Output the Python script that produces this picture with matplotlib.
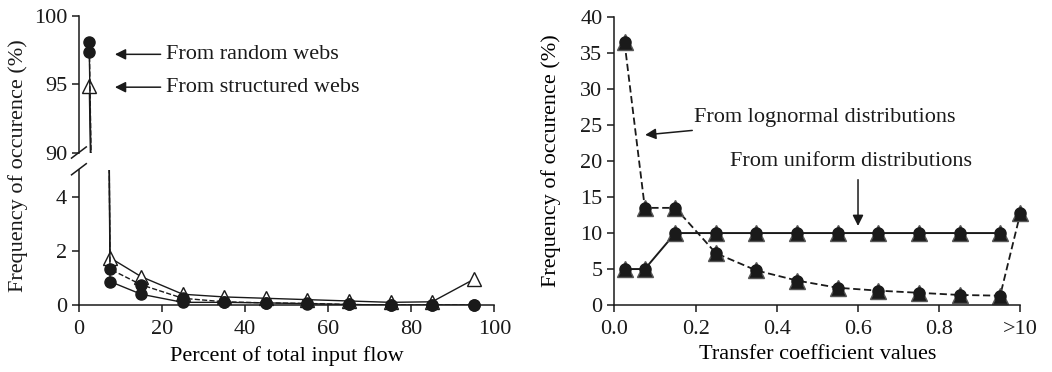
import matplotlib.pyplot as plt

plt.rcParams['font.family'] = ['Liberation Serif', 'DejaVu Serif']
plt.rcParams['font.size'] = 16

# left panel: percent of total input flow
pct_x = [2.5, 7.5, 15, 25, 35, 45, 55, 65, 75, 85, 95]
random_hi = [98.1, 1.33, 0.75, 0.25, 0.12, 0.08, 0.06, 0.02, 0.0, 0.0, 0.0]
random_lo = [97.4, 0.87, 0.40, 0.10, 0.10, 0.08, 0.05, 0.02, 0.0, 0.0, 0.0]
structured = [94.9, 1.75, 1.05, 0.40, 0.30, 0.25, 0.20, 0.15, 0.10, 0.12, 0.95]

# right panel: transfer coefficients
coef_x = [0.025, 0.075, 0.15, 0.25, 0.35, 0.45, 0.55, 0.65, 0.75, 0.85, 0.95, 1.0]
lognormal = [36.5, 13.5, 13.5, 7.2, 4.8, 3.4, 2.4, 2.0, 1.7, 1.4, 1.3, 12.8]
uniform = [5.0, 5.0, 10.0, 10.0, 10.0, 10.0, 10.0, 10.0, 10.0, 10.0, 10.0]
coef_ticks = [0.0, 0.2, 0.4, 0.6, 0.8, 1.0]
coef_labels = ['0.0', '0.2', '0.4', '0.6', '0.8', '>10']

ink = '#1a1a1a'

fig = plt.figure(figsize=(10.52, 3.72), dpi=100)
ax_top = fig.add_axes([0.075, 0.589, 0.395, 0.368])
ax_bot = fig.add_axes([0.075, 0.180, 0.395, 0.363])
ax_r = fig.add_axes([0.584, 0.180, 0.386, 0.774])


def style(ax):
    for s in ['top', 'right']:
        ax.spines[s].set_visible(False)
    for s in ['left', 'bottom']:
        ax.spines[s].set_linewidth(1.1)
        ax.spines[s].set_color(ink)
    ax.tick_params(direction='out', length=5, width=1.1, color=ink, labelcolor=ink)
    ax.tick_params(axis='x', pad=6)


series = [(structured, '-', '^', 10, 'white'),
          (random_hi, '--', 'o', 8, ink),
          (random_lo, '-', 'o', 8, ink)]

for ax, sl in [(ax_top, slice(0, 1)), (ax_bot, slice(1, None))]:
    style(ax)
    for ys, ls, mk, ms, fc in series:
        ax.plot(pct_x, ys, ls, color=ink, lw=1.0)
        ax.plot(pct_x[sl], ys[sl], ls='none', marker=mk, ms=ms, mfc=fc,
                mec=ink, mew=1.0, clip_on=False)
    ax.set_xlim(0, 100)

ax_top.set_ylim(90, 100)
ax_top.set_yticks([90, 95, 100])
ax_top.spines['bottom'].set_visible(False)
ax_top.set_xticks([])
ax_bot.set_ylim(0, 5)
ax_bot.set_yticks([0, 2, 4])
ax_bot.set_xticks([0, 20, 40, 60, 80, 100])
ax_bot.set_xlabel('Percent of total input flow', labelpad=5)

# break marks on the left spine
fig.add_artist(plt.Line2D([0.068, 0.082], [0.575, 0.605], color=ink, lw=1.1))
fig.add_artist(plt.Line2D([0.068, 0.082], [0.530, 0.560], color=ink, lw=1.1))

fig.text(0.017, 0.556, 'Frequency of occurence (%)', rotation=90,
         ha='center', va='center', color=ink)

arrow = dict(arrowstyle='-|>', color=ink, lw=1.1, mutation_scale=16)
ax_top.annotate('From random webs', xy=(8, 97.2), xytext=(21, 97.2),
                va='center', color=ink, arrowprops=arrow)
ax_top.annotate('From structured webs', xy=(8, 94.8), xytext=(21, 94.8),
                va='center', color=ink, arrowprops=arrow)

# right panel
style(ax_r)
ax_r.plot(coef_x, lognormal, '--', color=ink, lw=1.3, dashes=(4, 2))
ax_r.plot(coef_x[:len(uniform)], uniform, '-', color=ink, lw=1.4)
for xs, ys in [(coef_x, lognormal), (coef_x[:len(uniform)], uniform)]:
    ax_r.plot(xs, ys, ls='none', marker='^', ms=11, mfc=ink, mec='#555555',
              mew=1.0, clip_on=False)
    ax_r.plot(xs, ys, ls='none', marker='o', ms=8, mfc=ink, mec=ink,
              clip_on=False)
ax_r.set_xlim(0, 1.0)
ax_r.set_ylim(0, 40)
ax_r.set_yticks(range(0, 41, 5))
ax_r.set_xticks(coef_ticks)
ax_r.set_xticklabels(coef_labels)
ax_r.set_xlabel('Transfer coefficient values', labelpad=4)
ax_r.set_ylabel('Frequency of occurence (%)', labelpad=14)

ax_r.annotate('From lognormal distributions', xy=(0.069, 23.6),
              xytext=(0.195, 26.0), va='center', color=ink, arrowprops=arrow)
ax_r.text(0.285, 20.0, 'From uniform distributions', va='center', color=ink)
ax_r.annotate('', xy=(0.6, 10.6), xytext=(0.6, 17.8), arrowprops=arrow)

fig.savefig('out.png', dpi=100)
